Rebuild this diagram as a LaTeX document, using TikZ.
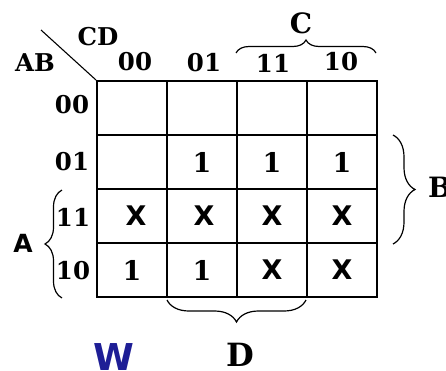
\documentclass[tikz,border=0pt]{standalone}
\usepackage{fontspec}
\setmainfont{DejaVu Serif}
\newfontfamily\sansb{DejaVu Sans}
\usetikzlibrary{decorations.pathreplacing}
\definecolor{wblue}{RGB}{30,30,150}
\tikzset{
  cell/.style={draw, line width=2pt, minimum width=70pt, minimum height=54pt, inner sep=0pt,
    font=\fontsize{27}{30}\selectfont\bfseries},
  lbl/.style={inner sep=0pt, font=\fontsize{24.5}{27}\selectfont\bfseries},
  big/.style={inner sep=0pt, font=\fontsize{28}{30}\selectfont\bfseries},
  sbig/.style={inner sep=0pt, font=\fontsize{25}{28}\selectfont\sansb\bfseries},
  brc/.style={decorate, line width=1.2pt, decoration={brace, amplitude=#1}},
}
\newcommand{\xx}{{\sansb\bfseries X}}
\begin{document}
\begin{tikzpicture}[x=1pt,y=-1pt]
\path[use as bounding box] (0,0) rectangle (446,370);
% cells
\foreach \r/\rn in {0/a,1/b,2/c,3/d}{
  \foreach \c/\cn in {0/a,1/b,2/c,3/d}{
    \node[cell] (k\rn\cn) at ({97+70*(\c+0.5)},{81+54*(\r+0.5)}) {};
  }
}
\node[cell, draw=none] (tbb) at (kbb) {1};
\node[cell, draw=none] (tbc) at (kbc) {1};
\node[cell, draw=none] (tbd) at (kbd) {1};
\node[cell, draw=none] (tca) at ([xshift=4pt]kca) {\xx};
\node[cell, draw=none] (tcb) at ([xshift=2pt]kcb) {\xx};
\node[cell, draw=none] (tcc) at (kcc) {\xx};
\node[cell, draw=none] (tcd) at (kcd) {\xx};
\node[cell, draw=none] (tda) at (kda) {1};
\node[cell, draw=none] (tdb) at (kdb) {1};
\node[cell, draw=none] (tdc) at (kdc) {\xx};
\node[cell, draw=none] (tdd) at (kdd) {\xx};
% diagonal
\coordinate (dg) at (41,30);
\draw[line width=1.1pt] (dg) -- (kaa.north west);
% header labels
\node[lbl] (cd) at (98,37) {CD};
\node[lbl] (ab) at (35,63) {AB};
\node[lbl] (c0) at (135,62) {00};
\node[lbl] (c1) at (204,63) {01};
\node[lbl] (c2) at (273,63) {11};
\node[lbl] (c3) at (341,62) {10};
\node[lbl] (r0) at (72,105) {00};
\node[lbl] (r1) at (72,162) {01};
\node[lbl] (r2) at (73,217) {11};
\node[lbl] (r3) at (73,271) {10};
% braces
\coordinate (bc1) at (236,53); \coordinate (bc2) at (376,53);
\draw[brc=13pt] (bc1) -- (bc2);
\coordinate (bb1) at (393,135); \coordinate (bb2) at (393,244);
\draw[brc=22pt] (bb1) -- (bb2);
\coordinate (ba1) at (62,298); \coordinate (ba2) at (62,190);
\draw[brc=17pt] (ba1) -- (ba2);
\coordinate (bd1) at (306,300); \coordinate (bd2) at (167,300);
\draw[brc=22pt] (bd1) -- (bd2);
\node[big] (lc) at (301,23) {C};
\node[big] (lb) at (440,187) {B};
\node[sbig] (la) at (23,243) {A};
\node[big, font=\fontsize{32}{36}\selectfont\bfseries] (ld) at (240,355) {D};
\node[inner sep=0pt, anchor=base, text=wblue, font=\fontsize{37}{40}\selectfont\sansb\bfseries] (w) at (114,370) {W};
\end{tikzpicture}
\end{document}
